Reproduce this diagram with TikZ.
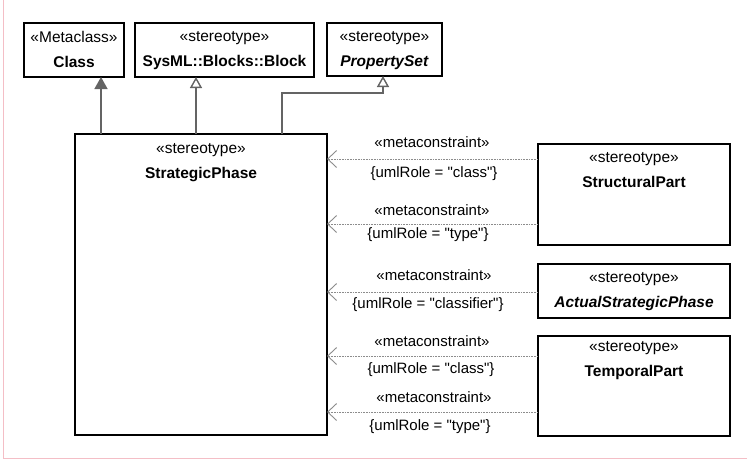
\documentclass[tikz,border=0pt]{standalone}
\usepackage{fontspec}
\setmainfont{Liberation Sans}[Ligatures=TeXOff]
\usetikzlibrary{arrows.meta,calc}
\definecolor{framepink}{RGB}{244,190,198}
\definecolor{lineg}{RGB}{100,100,100}
\definecolor{depg}{RGB}{140,140,140}
\tikzset{
  x=1pt,y=1pt,
  box/.style={draw=black,line width=1.1pt,anchor=north west,inner sep=0pt,outer sep=0pt},
  boxtext/.style={anchor=north,align=center,inner sep=0pt,font=\fontsize{15.5}{25}\selectfont},
  gen/.style={draw=lineg,line width=1.4pt},
  dep/.style={draw=depg,line width=0.9pt,dash pattern=on 1pt off 0.6pt,
     -{Straight Barb[length=9pt,width=17pt,line width=0.9pt]}},
  lab/.style={inner sep=0pt,font=\fontsize{15}{18}\selectfont},
}
\begin{document}
\begin{tikzpicture}
\useasboundingbox (0,0) rectangle (747,-459);
\draw[framepink,line width=0.9pt] (3,0) -- (3,-458) -- (747,-458);

% top boxes
\node[box,minimum width=100,minimum height=54] (cls) at (24,-23) {};
\node[boxtext] (clst) at ($(cls.north)+(0,-8)$) {«Metaclass»\\\textbf{Class}};
\node[box,minimum width=179,minimum height=54] (blk) at (135,-23) {};
\node[boxtext] (blkt) at ($(blk.north)+(0,-8)$) {«stereotype»\\\textbf{SysML::Blocks::Block}};
\node[box,minimum width=115,minimum height=53] (ps) at (327,-23) {};
\node[boxtext] (pst) at ($(ps.north)+(0,-8)$) {«stereotype»\\\textbf{\itshape PropertySet}};

% main box
\node[box,minimum width=252,minimum height=301] (sp) at (75,-134) {};
\node[boxtext] (spt) at ($(sp.north)+(0,-9)$) {«stereotype»\\\textbf{StrategicPhase}};

% right boxes
\node[box,minimum width=192,minimum height=101] (stp) at (538,-144) {};
\node[boxtext] (stpt) at ($(stp.north)+(0,-8)$) {«stereotype»\\\textbf{StructuralPart}};
\node[box,minimum width=192,minimum height=54] (asp) at (538,-264) {};
\node[boxtext] (aspt) at ($(asp.north)+(0,-8)$) {«stereotype»\\\textbf{\itshape ActualStrategicPhase}};
\node[box,minimum width=192,minimum height=100] (tp) at (538,-336) {};
\node[boxtext] (tpt) at ($(tp.north)+(0,-5)$) {«stereotype»\\\textbf{TemporalPart}};

% generalizations
\draw[gen,-{Triangle[length=12pt,width=13pt,fill=lineg]}] (sp.north -| 101,0) -- (cls.south -| 101,0);
\draw[gen,-{Triangle[open,length=11pt,width=12pt,fill=white]}] (sp.north -| 196,0) -- (blk.south -| 196,0);
\draw[gen,-{Triangle[open,length=11pt,width=12pt,fill=white]}] (sp.north -| 282,0) -- (282,-93) -- (383,-93) -- (ps.south -| 383,0);

% metaconstraints
\draw[dep] (stp.west |- 0,-159) -- (sp.east |- 0,-159);
\draw[dep] (stp.west |- 0,-224) -- (sp.east |- 0,-224);
\draw[dep] (asp.west |- 0,-292) -- (sp.east |- 0,-292);
\draw[dep] (tp.west |- 0,-356) -- (sp.east |- 0,-356);
\draw[dep] (tp.west |- 0,-412) -- (sp.east |- 0,-412);

\node[lab] (m1) at (432,-142) {«metaconstraint»};
\node[lab] (r1) at (434,-174) {\{umlRole = "class"\}};
\node[lab] (m2) at (432,-210) {«metaconstraint»};
\node[lab] (r2) at (428,-235) {\{umlRole = "type"\}};
\node[lab] (m3) at (434,-275) {«metaconstraint»};
\node[lab] (r3) at (428,-305) {\{umlRole = "classifier"\}};
\node[lab] (m4) at (432,-341) {«metaconstraint»};
\node[lab] (r4) at (431,-370) {\{umlRole = "class"\}};
\node[lab] (m5) at (434,-397) {«metaconstraint»};
\node[lab] (r5) at (430,-427) {\{umlRole = "type"\}};
\end{tikzpicture}
\end{document}
